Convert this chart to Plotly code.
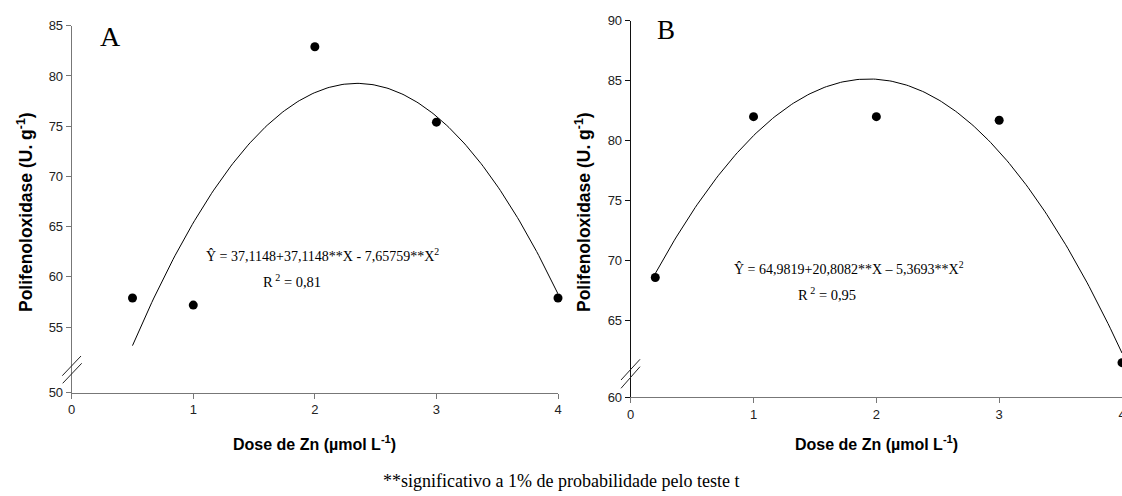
import numpy as np
import plotly.graph_objects as go

W, H = 1122, 496

# ---------------- data ----------------
doses_a = [0.5, 1, 2, 3, 4]
ppo_a = [57.9, 57.2, 82.9, 75.4, 57.9]
fit_a = [37.1148, 35.93, -7.65759]      # a, b, c
fit_a_range = [0.5, 4.0]

doses_b = [0.2, 1, 2, 3, 4]
ppo_b = [68.6, 82.0, 82.0, 81.7, 61.5]
fit_b = [64.9819, 20.8082, -5.3693]
fit_b_range = [0.2, 4.0]

x_ticks = [0, 1, 2, 3, 4]
y_ticks_a = [55, 60, 65, 70, 75, 80, 85]
y_break_a = 50
y_ticks_b = [65, 70, 75, 80, 85, 90]
y_break_b = 60

eq_a = "Ŷ = 37,1148+37,1148**X - 7,65759**X<sup>2</sup>"
r2_a = "R<sup> 2</sup> = 0,81"
eq_b = "Ŷ = 64,9819+20,8082**X – 5,3693**X<sup>2</sup>"
r2_b = "R<sup> 2</sup> = 0,95"
y_title = "<b>Polifenoloxidase (U. g<sup>-1</sup>)</b>"
x_title = "<b>Dose de Zn (µmol L<sup>-1</sup>)</b>"
footnote = "**significativo a 1% de probabilidade pelo teste t"

# ---------------- helpers ----------------
def px(x):
    return x / W

def py(y):
    return 1 - y / H

def curve(coefs, rng):
    xs = np.linspace(rng[0], rng[1], 200)
    a, b, c = coefs
    return xs, a + b * xs + c * xs ** 2

# fake axis position for the broken-axis bottom tick
fake_a = 48.5
fake_b = 58.64

fig = go.Figure()

xa, ya = curve(fit_a, fit_a_range)
fig.add_trace(go.Scatter(x=xa, y=ya, mode="lines", line=dict(color="black", width=1),
                         xaxis="x", yaxis="y", showlegend=False, hoverinfo="skip"))
fig.add_trace(go.Scatter(x=doses_a, y=ppo_a, mode="markers",
                         marker=dict(color="black", size=9), xaxis="x", yaxis="y",
                         showlegend=False, cliponaxis=False))

xb, yb = curve(fit_b, fit_b_range)
fig.add_trace(go.Scatter(x=xb, y=yb, mode="lines", line=dict(color="black", width=1),
                         xaxis="x2", yaxis="y2", showlegend=False, hoverinfo="skip"))
fig.add_trace(go.Scatter(x=doses_b, y=ppo_b, mode="markers",
                         marker=dict(color="black", size=9), xaxis="x2", yaxis="y2",
                         showlegend=False))

tickfont = dict(family="Liberation Sans, Arial", size=13, color="#222")
axcommon = dict(showgrid=False, zeroline=False, showline=True, ticks="outside",
                ticklen=5, tickwidth=1, tickfont=tickfont, automargin=False)

fig.update_layout(
    width=W, height=H, autosize=False,
    margin=dict(l=0, r=0, t=0, b=0),
    paper_bgcolor="white", plot_bgcolor="white",
    xaxis=dict(domain=[px(71.7), px(558)], range=[0, 4], tickvals=x_ticks,
               linecolor="#777", tickcolor="#777", **axcommon),
    yaxis=dict(domain=[py(392.5), py(25.7)], range=[fake_a, 85],
               tickvals=[fake_a] + y_ticks_a,
               ticktext=[str(y_break_a)] + [str(v) for v in y_ticks_a],
               linecolor="#777", tickcolor="#777", anchor="x", **axcommon),
    xaxis2=dict(domain=[px(630.7), 1.0], range=[0, 4], tickvals=x_ticks,
                linecolor="#777", tickcolor="#777", anchor="y2",
                ticklabeloverflow="allow", **axcommon),
    yaxis2=dict(domain=[py(397), py(20.7)], range=[fake_b, 90],
                tickvals=[fake_b] + y_ticks_b,
                ticktext=[str(y_break_b)] + [str(v) for v in y_ticks_b],
                linecolor="#111", tickcolor="#111", anchor="x2", **axcommon),
)

serif = "Liberation Serif, Times New Roman"
sans = "Liberation Sans, Arial"
ann = []
def add_text(x, y, text, size, family, angle=0, color="black"):
    ann.append(dict(x=px(x), y=py(y), xref="paper", yref="paper", text=text,
                    showarrow=False, textangle=angle, xanchor="center", yanchor="middle",
                    font=dict(family=family, size=size, color=color)))

add_text(110, 36, "A", 28, serif)
add_text(666, 30, "B", 27, serif)
add_text(322, 255, eq_a, 14, serif)
add_text(292, 281, r2_a, 14.5, serif)
add_text(849, 268, eq_b, 14, serif)
add_text(827, 294, r2_b, 14.5, serif)
add_text(25, 212, y_title, 17.5, sans, angle=-90)
add_text(583, 212, y_title, 17.5, sans, angle=-90)
add_text(314, 443, x_title, 16, sans)
add_text(876, 443, x_title, 16, sans)
add_text(561, 481, footnote, 18, serif)
fig.update_layout(annotations=ann)

# broken-axis marks
shapes = []
def seg(x0, y0, x1, y1, color):
    shapes.append(dict(type="line", xref="paper", yref="paper",
                       x0=px(x0), y0=py(y0), x1=px(x1), y1=py(y1),
                       line=dict(color=color, width=1)))

seg(62.3, 375.7, 81, 356, "#222")
seg(62.7, 383.3, 81.7, 363.3, "#222")
seg(621, 380, 640, 359.3, "#222")
seg(621, 388.3, 640, 366.7, "#222")
fig.update_layout(shapes=shapes)

fig.write_html("out.html")
